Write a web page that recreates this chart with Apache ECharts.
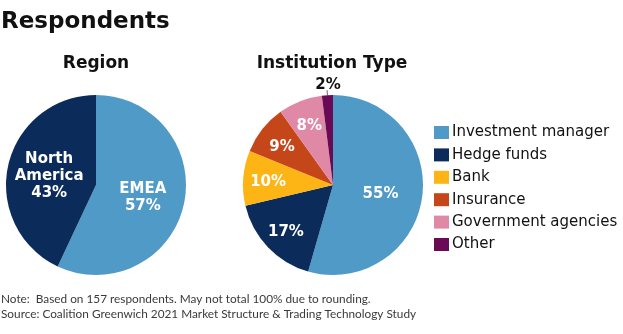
<!DOCTYPE html>
<html><head><meta charset="utf-8">
<script src="https://cdn.jsdelivr.net/npm/echarts@6/dist/echarts.min.js"></script>
<style>html,body{margin:0;padding:0;background:#fff}#c{width:623px;height:334px}</style>
</head><body><div id="c"></div>
<script>
const regionNames = ['EMEA', 'North America'];
const regionValues = [57, 43];
const instNames = ['Investment manager', 'Hedge funds', 'Bank', 'Insurance', 'Government agencies', 'Other'];
const instValues = [55, 17, 10, 9, 8, 2];
const regionColors = ['#4f9ac6', '#0b2b5b'];
const instColors = ['#4f9ac6', '#0b2b5b', '#fdb515', '#c44619', '#df89a6', '#6a0a56'];

const FONT = 'DejaVu Sans';
const R = 90;
const chart = echarts.init(document.getElementById('c'), null, {renderer: 'canvas'});

const instTotal = instValues.reduce((a, b) => a + b, 0);
let cum = 0;
const instData = instNames.map((n, i) => {
  const v = instValues[i];
  const f = (cum + v / 2) / instTotal;
  cum += v;
  const th = 2 * Math.PI * f;
  const d = v < 20 ? 0.19 * R : 0;
  const item = {name: n, value: v, itemStyle: {color: instColors[i]}};
  if (v < 5) {
    item.label = {position: 'outside', color: '#111', formatter: '{c}%'};
    item.labelLine = {show: true, length: 5, length2: 0, lineStyle: {color: '#666', width: 1}};
  } else {
    item.label = {offset: [d * Math.sin(th), -d * Math.cos(th) + 2]};
  }
  return item;
});

const regionData = regionNames.map((n, i) => ({
  name: n, value: regionValues[i], itemStyle: {color: regionColors[i]},
  label: {formatter: i === 0 ? '{b}\n{c}%' : 'North\nAmerica\n{c}%', offset: [0, 2]}
}));

chart.setOption({
  animation: false,
  title: [
    {text: 'Respondents', left: 1, top: 11, padding: 0, textStyle: {fontFamily: FONT, fontWeight: 'bold', fontSize: 23, color: '#111'}},
    {text: 'Region', left: 96, top: 55, padding: 0, textAlign: 'center', textStyle: {fontFamily: FONT, fontWeight: 'bold', fontSize: 17, color: '#111'}},
    {text: 'Institution Type', left: 332, top: 55, padding: 0, textAlign: 'center', textStyle: {fontFamily: FONT, fontWeight: 'bold', fontSize: 17, color: '#111'}},
    {text: 'Note:  Based on 157 respondents. May not total 100% due to rounding.\nSource: Coalition Greenwich 2021 Market Structure & Trading Technology Study',
     left: 1, top: 291, padding: 0, textStyle: {fontFamily: 'Lato', fontWeight: 'normal', fontSize: 11.8, lineHeight: 15.5, color: '#3a3a3a'}}
  ],
  legend: {
    orient: 'vertical', left: 434, top: 125, padding: 0,
    itemWidth: 15, itemHeight: 13, itemGap: 7.4,
    icon: 'rect',
    data: instNames,
    textStyle: {fontFamily: FONT, fontSize: 15, lineHeight: 15, color: '#111', padding: [0, 0, 0, -2]}
  },
  series: [
    {
      type: 'pie', radius: R, center: [96, 185], startAngle: 90, clockwise: true,
      data: regionData,
      label: {position: 'inside', color: '#fff', fontFamily: FONT, fontWeight: 'bold', fontSize: 15, lineHeight: 17},
      labelLine: {show: false},
      emphasis: {disabled: true}, silent: true
    },
    {
      type: 'pie', radius: R, center: [333, 185], startAngle: 90, clockwise: true,
      data: instData,
      label: {position: 'inside', color: '#fff', fontFamily: FONT, fontWeight: 'bold', fontSize: 15, formatter: '{c}%'},
      labelLine: {show: false},
      labelLayout: function (p) {
        if (instValues[p.dataIndex] < 5) return {align: 'center', verticalAlign: 'bottom', dx: 6, dy: 2};
        return {};
      },
      emphasis: {disabled: true}, silent: true
    }
  ]
});
</script></body></html>
